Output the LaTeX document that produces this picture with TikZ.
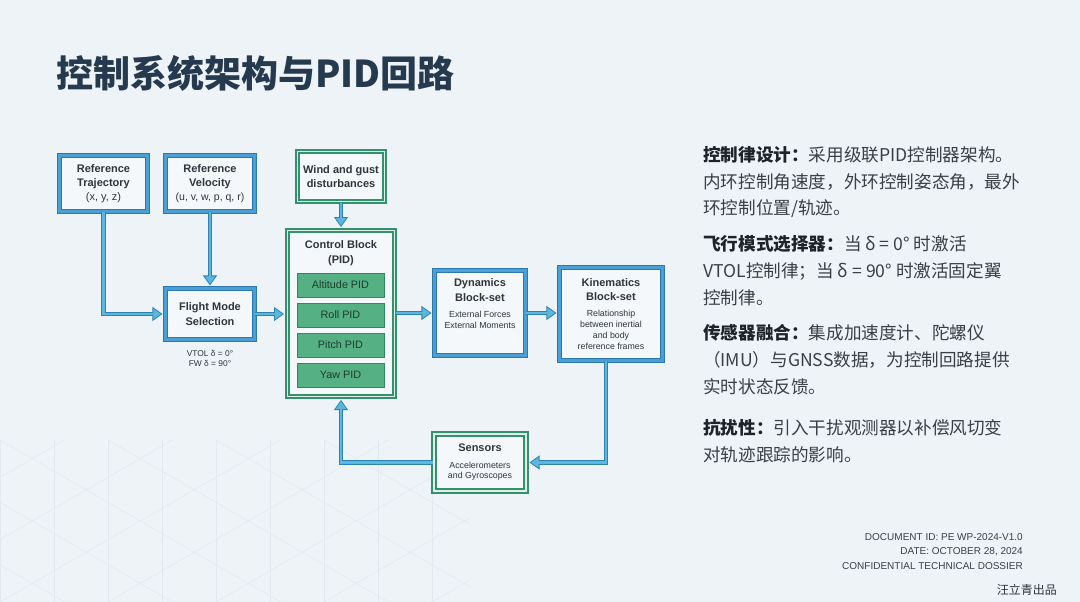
\documentclass[tikz,border=0pt]{standalone}
\usepackage{fontspec}
\setmainfont{Liberation Sans}
\newfontfamily\cjk{Noto Sans CJK SC}
\usetikzlibrary{arrows.meta}
\definecolor{bg}{HTML}{EEF3F7}
\definecolor{pat}{HTML}{E0E9EE}
\definecolor{boxfill}{HTML}{F5F8FA}
\definecolor{bdark}{HTML}{2A78AE}
\definecolor{bmid}{HTML}{4A9FD4}
\definecolor{gdark}{HTML}{34916D}
\definecolor{glight}{HTML}{DDEFE6}
\definecolor{piddark}{HTML}{2E8A5E}
\definecolor{pidfill}{HTML}{55B083}
\definecolor{pidtxt}{HTML}{1E3D2D}
\definecolor{cdark}{HTML}{2C84B3}
\definecolor{clight}{HTML}{5CB6DD}
\definecolor{txt}{HTML}{2F353D}
\definecolor{ttl}{HTML}{263A4F}
\definecolor{rtxt}{HTML}{3A3F46}
\definecolor{rbold}{HTML}{1E2329}
\newcommand\smt[1]{{\normalfont\fontsize{8.8}{10.5}\selectfont #1}}
\begin{document}
\begin{tikzpicture}[x=1pt,y=-1pt,
  bbox/.style={draw=bdark, double=bmid, line width=1.1pt, double distance=2.6pt,
    fill=boxfill, align=center, text=txt, inner sep=2pt,
    font=\bfseries\fontsize{11}{14.5}\selectfont},
  gbox/.style={bbox, draw=gdark, double=glight, line width=2pt, double distance=1.1pt},
  pidbox/.style={draw=piddark, fill=pidfill, line width=0.8pt, minimum width=87pt,
    minimum height=24pt, text=pidtxt, font=\fontsize{10.8}{12}\selectfont},
  conn/.style={draw=cdark, line width=4.6pt, line join=miter, shorten >=2.5pt,
    -{Triangle[length=10pt,width=14pt,color=cdark,fill=clight,line width=0.8pt]},
    postaction={draw=clight, line width=2.6pt, -, shorten >=10.5pt}},
  rline/.style={anchor=west, inner sep=0pt, text=rtxt, font=\cjk\fontsize{17.6}{20}\selectfont},
  foot/.style={anchor=east, inner sep=0pt, text=rtxt, font=\fontsize{10}{11}\selectfont},
  patline/.style={draw=pat, line width=0.5pt}
]
\useasboundingbox (0,0) rectangle (1080,602);
\fill[bg] (0,0) rectangle (1080,602);
% faint background pattern
\begin{scope}
  \clip (0,440) rectangle (470,602);
  \foreach \i in {0,...,9} { \draw[patline] (\i*54,440) -- (\i*54,602); }
  \foreach \k in {-12,...,4} {
    \draw[patline] (0,440+\k*62.35) -- ++(600,346.4);
    \draw[patline] (0,602-\k*62.35) -- ++(600,-346.4);
  }
\end{scope}

% title
\node[anchor=west, inner sep=0pt, text=ttl, font=\cjk\bfseries\fontsize{37}{40}\selectfont] (title) at (56,73) {控制系统架构与PID回路};

% boxes
\node[bbox, minimum width=88pt, minimum height=56pt] (rt) at (103.5,183.5)
  {Reference\\Trajectory\\[-1pt]{\normalfont (x, y, z)}};
\node[bbox, minimum width=89pt, minimum height=56pt] (rv) at (210,183.5)
  {Reference\\Velocity\\[-1pt]{\normalfont\fontsize{10.5}{12}\selectfont (u, v, w, p, q, r)}};
\node[bbox, minimum width=89pt, minimum height=51pt] (fm) at (210,314)
  {Flight Mode\\[1pt]Selection};
\node[inner sep=0pt, align=center, text=txt, font=\fontsize{8.4}{10}\selectfont] (fmnote) at (210,358)
  {VTOL δ = 0°\\FW δ = 90°};
\node[gbox, minimum width=87pt, minimum height=50pt] (wind) at (341,176.5)
  {Wind and gust\\disturbances};
\node[gbox, minimum width=107pt, minimum height=166pt] (cb) at (341,313.5) {};
\node[inner sep=0pt, align=center, text=txt, font=\bfseries\fontsize{11}{14.5}\selectfont] (cbt) at (341,253)
  {Control Block\\(PID)};
\node[pidbox] (p1) at (340.5,285) {Altitude PID};
\node[pidbox] (p2) at (340.5,315) {Roll PID};
\node[pidbox] (p3) at (340.5,345) {Pitch PID};
\node[pidbox] (p4) at (340.5,375) {Yaw PID};
\node[bbox, minimum width=91pt, minimum height=85pt] (dyn) at (480,313)
  {Dynamics\\Block-set\\[2pt]\smt{External Forces}\\[-4pt]\smt{External Moments}\\[4pt]};
\node[bbox, minimum width=103pt, minimum height=93pt] (kin) at (611,314)
  {Kinematics\\Block-set\\[1pt]\smt{Relationship}\\[-3.5pt]\smt{between inertial}\\[-3.5pt]\smt{and body}\\[-3.5pt]\smt{reference frames}};
\node[gbox, minimum width=92pt, minimum height=57pt] (sen) at (480,462.5)
  {Sensors\\[2pt]\smt{Accelerometers}\\[-4pt]\smt{and Gyroscopes}};

% connectors
\draw[conn] (rt.south) |- (fm.west);
\draw[conn] (rv.south) -- (fm.north);
\draw[conn] (fm.east) -- (fm.east -| cb.west);
\draw[conn] (wind.south) -- (cb.north);
\draw[conn] (cb.east |- dyn.east) -- (dyn.west);
\draw[conn] (dyn.east) -- (dyn.east -| kin.west);
\draw[conn] ([xshift=-5pt]kin.south) |- (sen.east);
\draw[conn] (sen.west) -| (cb.south);

% right text
\node[rline] (r1) at (703,155) {{\bfseries\color{rbold}控制律设计：}采用级联PID控制器架构。};
\node[rline] (r2) at (703,182) {内环控制角速度，外环控制姿态角，最外};
\node[rline] (r3) at (703,209) {环控制位置/轨迹。};
\node[rline] (r4) at (703,244) {{\bfseries\color{rbold}飞行模式选择器：}当 δ = 0° 时激活};
\node[rline] (r5) at (703,271) {VTOL控制律；当 δ = 90° 时激活固定翼};
\node[rline] (r6) at (703,298) {控制律。};
\node[rline] (r7) at (703,333) {{\bfseries\color{rbold}传感器融合：}集成加速度计、陀螺仪};
\node[rline] (r8) at (703,360) {（IMU）与GNSS数据，为控制回路提供};
\node[rline] (r9) at (703,387) {实时状态反馈。};
\node[rline] (r10) at (703,428) {{\bfseries\color{rbold}抗扰性：}引入干扰观测器以补偿风切变};
\node[rline] (r11) at (703,455) {对轨迹跟踪的影响。};

% footer
\node[foot] (f1) at (1023,537) {DOCUMENT ID: PE WP-2024-V1.0};
\node[foot] (f2) at (1023,551.5) {DATE: OCTOBER 28, 2024};
\node[foot] (f3) at (1023,566) {CONFIDENTIAL TECHNICAL DOSSIER};
\node[anchor=east, inner sep=0pt, text=txt, font=\cjk\fontsize{12}{14}\selectfont] (sig) at (1057,590) {汪立青出品};
\end{tikzpicture}
\end{document}
